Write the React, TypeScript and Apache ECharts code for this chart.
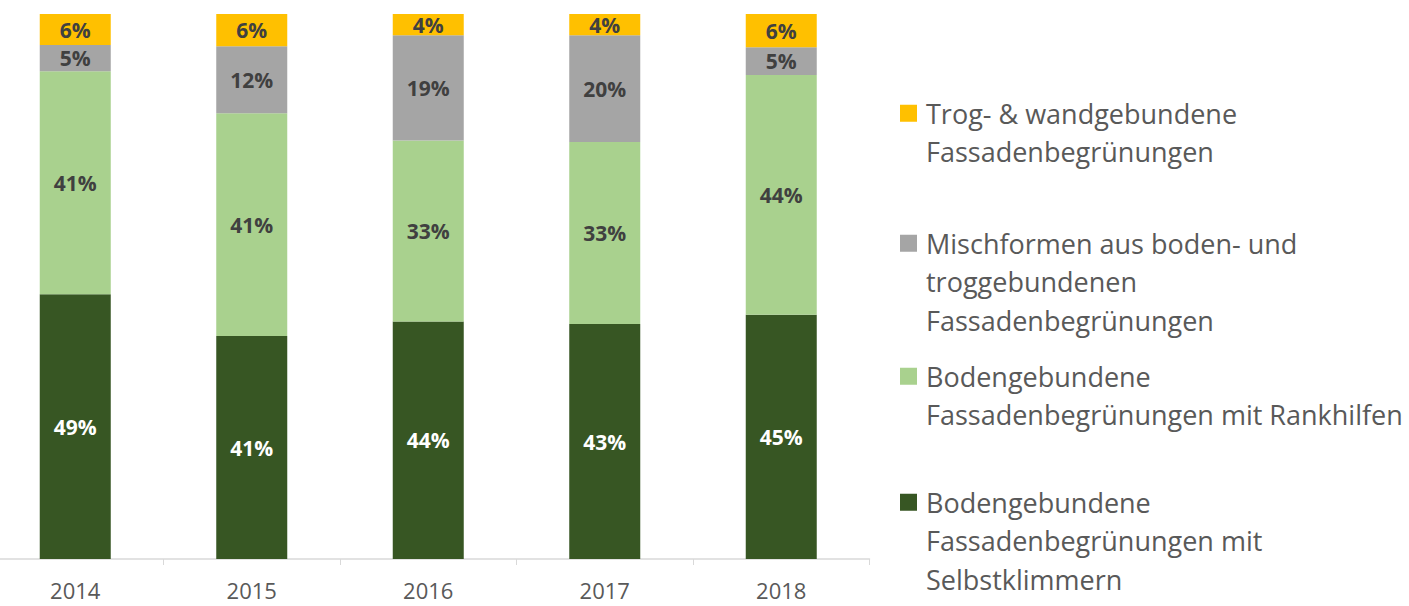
import React, { useEffect, useRef } from "react";
import * as echarts from "echarts";

const years = ["2014", "2015", "2016", "2017", "2018"];
const selbstklimmer = [48.6, 40.9, 43.6, 43.1, 44.8];
const rankhilfen = [40.9, 40.9, 33.2, 33.4, 44.0];
const mischformen = [4.8, 12.3, 19.3, 19.6, 5.1];
const trogWand = [5.7, 5.9, 3.9, 3.9, 6.1];

const nameTrog = "Trog- & wandgebundene\nFassadenbegrünungen";
const nameMisch = "Mischformen aus boden- und\ntroggebundenen\nFassadenbegrünungen";
const nameRank = "Bodengebundene\nFassadenbegrünungen mit Rankhilfen";
const nameSelbst = "Bodengebundene\nFassadenbegrünungen mit\nSelbstklimmern";

const FONT = "'Open Sans', Lato, sans-serif";
const LH = 38.5;

function iconFor(lines: number) {
  const H = lines * LH;
  const c = LH / 2;
  return `path://M0,0h0.01v0.01h-0.01z M0,${c - 8.5}h17v17h-17z M0,${H - 0.01}h0.01v0.01h-0.01z`;
}

function legendFor(name: string, lines: number, top: number) {
  return {
    data: [name],
    left: 900,
    top,
    padding: 0,
    orient: "vertical",
    itemWidth: 17,
    itemHeight: lines * LH,
    icon: iconFor(lines),
    selectedMode: false,
    textStyle: {
      fontFamily: FONT,
      fontSize: 27,
      color: "#595959",
      lineHeight: LH,
      padding: [0, 0, 0, 4],
    },
  };
}

export default function App() {
  const ref = useRef<HTMLDivElement>(null);
  useEffect(() => {
    if (!ref.current) return;
    const chart = echarts.init(ref.current, null, { renderer: "svg" });
    const label = (color: string) => ({
      show: true,
      position: "inside",
      fontFamily: FONT,
      fontWeight: "bold",
      fontSize: 21,
      color,
      formatter: (p: any) => Math.round(p.value) + "%",
    });
    chart.setOption({
      animation: false,
      backgroundColor: "#ffffff",
      grid: {
        left: -13,
        right: 539.5,
        top: 14,
        bottom: 47,
        containLabel: false,
        outerBoundsMode: "none",
      },
      legend: [
        legendFor(nameTrog, 2, 94),
        legendFor(nameMisch, 3, 224),
        legendFor(nameRank, 2, 357),
        legendFor(nameSelbst, 3, 483),
      ],
      xAxis: {
        type: "category",
        data: years,
        axisLine: { lineStyle: { color: "#D9D9D9", width: 1.5 } },
        axisTick: { show: true, length: 6, lineStyle: { color: "#D9D9D9" } },
        axisLabel: { fontFamily: FONT, fontSize: 22, color: "#595959", margin: 20 },
      },
      yAxis: { type: "value", min: 0, max: 100, show: false, splitLine: { show: false } },
      series: [
        {
          name: nameSelbst,
          type: "bar",
          stack: "total",
          barWidth: 71,
          data: selbstklimmer,
          itemStyle: { color: "#375623" },
          label: label("#ffffff"),
        },
        {
          name: nameRank,
          type: "bar",
          stack: "total",
          barWidth: 71,
          data: rankhilfen,
          itemStyle: { color: "#A9D18E" },
          label: label("#404040"),
        },
        {
          name: nameMisch,
          type: "bar",
          stack: "total",
          barWidth: 71,
          data: mischformen,
          itemStyle: { color: "#A5A5A5" },
          label: label("#404040"),
        },
        {
          name: nameTrog,
          type: "bar",
          stack: "total",
          barWidth: 71,
          data: trogWand,
          itemStyle: { color: "#FFC000" },
          label: label("#404040"),
        },
      ],
    });
    return () => chart.dispose();
  }, []);
  return (
    <div
      ref={ref}
      style={{ position: "fixed", left: 0, top: 0, width: 1409, height: 606 }}
    />
  );
}
